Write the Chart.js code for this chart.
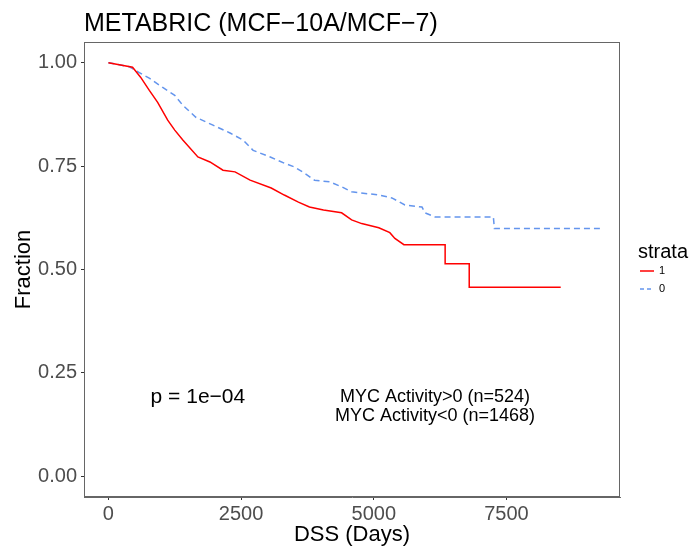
<!DOCTYPE html>
<html>
<head>
<meta charset="utf-8">
<script src="https://cdn.jsdelivr.net/npm/chart.js@4"></script>
<style>
  html, body { margin: 0; padding: 0; background: #fff; }
  #wrap { width: 693px; height: 548px; }
</style>
</head>
<body>
<div id="wrap"><canvas id="chart" width="693" height="548"></canvas></div>
<script>
// curva strata 1 (MYC Activity>0)
var redDays = [0, 455, 606, 771, 928, 1117, 1250, 1402, 1686, 1913, 2159, 2386, 2670, 3068, 3314, 3580, 3788, 4053, 4394, 4583, 4773, 5095, 5303, 5398, 5568, 6345, 6345, 6799, 6799, 8523];
var redSurv = [1.0, 0.989, 0.965, 0.933, 0.904, 0.861, 0.837, 0.813, 0.772, 0.760, 0.740, 0.736, 0.716, 0.697, 0.680, 0.663, 0.651, 0.644, 0.637, 0.620, 0.611, 0.601, 0.589, 0.575, 0.560, 0.560, 0.514, 0.514, 0.457, 0.457];
// curva strata 0 (MYC Activity<0)
var blueDays = [0, 398, 511, 777, 1023, 1250, 1402, 1648, 1970, 2292, 2538, 2727, 3049, 3314, 3504, 3693, 3883, 4167, 4394, 4583, 5095, 5341, 5587, 5909, 5966, 6155, 7254, 7273, 9261];
var blueSurv = [1.0, 0.990, 0.981, 0.962, 0.940, 0.921, 0.897, 0.868, 0.849, 0.830, 0.813, 0.788, 0.772, 0.757, 0.748, 0.733, 0.716, 0.712, 0.700, 0.688, 0.680, 0.673, 0.656, 0.651, 0.637, 0.627, 0.627, 0.599, 0.599];

var xTicks = [0, 2500, 5000, 7500];
var yTicks = [0, 0.25, 0.5, 0.75, 1.0];
var strataNames = ['1', '0'];
var strataColors = ['#FF0000', '#6495ED'];
var titulo = 'METABRIC (MCF\u221210A/MCF\u22127)';
var pTexto = 'p = 1e\u221204';
var mycTextos = ['MYC Activity>0 (n=524)', 'MYC Activity<0 (n=1468)'];

var FONT = '"Liberation Sans", Arial, sans-serif';

function toXY(xs, ys) {
    var out = [];
    for (var i = 0; i < xs.length; i++) out.push({x: xs[i], y: ys[i]});
    return out;
}

// titulo, borde del panel, textos y leyenda
var extras = {
    id: 'extras',
    afterDraw: function (chart) {
        var c = chart.ctx;
        var a = chart.chartArea;
        var sx = chart.scales.x, sy = chart.scales.y;
        c.save();
        c.strokeStyle = '#666';
        c.lineWidth = 1;
        c.strokeRect(a.left + 0.5, a.top + 0.5, a.right - a.left - 1, a.bottom - a.top - 1);

        c.fillStyle = '#000';
        c.textBaseline = 'middle';
        c.textAlign = 'left';
        c.font = '25px ' + FONT;
        c.fillText(titulo, 84, 24);

        c.textAlign = 'center';
        c.font = '21px ' + FONT;
        c.fillText(pTexto, sx.getPixelForValue(1686), sy.getPixelForValue(0.192));
        c.font = '18px ' + FONT;
        c.fillText(mycTextos[0], sx.getPixelForValue(6155), sy.getPixelForValue(0.192));
        c.fillText(mycTextos[1], sx.getPixelForValue(6155), sy.getPixelForValue(0.146));

        // leyenda
        c.textAlign = 'left';
        c.font = '20px ' + FONT;
        c.fillText('strata', 638, 252);
        c.font = '11px ' + FONT;
        var ys = [271, 289];
        for (var i = 0; i < strataNames.length; i++) {
            c.strokeStyle = strataColors[i];
            c.lineWidth = 1.5;
            c.setLineDash(i == 1 ? [4, 3] : []);
            c.beginPath();
            c.moveTo(640, ys[i]);
            c.lineTo(654, ys[i]);
            c.stroke();
            c.fillStyle = '#000';
            c.fillText(strataNames[i], 659, ys[i]);
        }
        c.restore();
    }
};

var ctx = document.getElementById('chart');
var chart = new Chart(ctx, {
    type: 'line',
    data: {
        datasets: [{
            label: strataNames[0],
            data: toXY(redDays, redSurv),
            borderColor: strataColors[0],
            borderWidth: 1.5,
            pointRadius: 0,
            tension: 0,
            fill: false
        }, {
            label: strataNames[1],
            data: toXY(blueDays, blueSurv),
            borderColor: strataColors[1],
            borderWidth: 1.5,
            borderDash: [6, 4],
            pointRadius: 0,
            tension: 0,
            fill: false
        }]
    },
    options: {
        responsive: false,
        animation: false,
        layout: { padding: { left: 0, top: 42, right: 73, bottom: 0 } },
        plugins: { legend: { display: false }, title: { display: false }, tooltip: { enabled: false } },
        scales: {
            x: {
                type: 'linear',
                min: -460,
                max: 9640,
                afterFit: function (s) { s.height = 51; },
                afterBuildTicks: function (s) { s.ticks = xTicks.map(function (v) { return {value: v}; }); },
                grid: { drawOnChartArea: false, drawTicks: true, tickLength: 3, tickColor: '#333' },
                border: { display: true, color: '#666' },
                ticks: { color: '#4D4D4D', font: { family: FONT, size: 20 }, padding: 2, maxRotation: 0,
                    callback: function (v) { return String(v); } },
                title: { display: true, text: 'DSS (Days)', color: '#000', font: { family: FONT, size: 22 }, padding: { top: 0, bottom: 0 } }
            },
            y: {
                type: 'linear',
                min: -0.05,
                max: 1.05,
                afterFit: function (s) { s.width = 84; },
                afterBuildTicks: function (s) { s.ticks = yTicks.map(function (v) { return {value: v}; }); },
                grid: { drawOnChartArea: false, drawTicks: true, tickLength: 3, tickColor: '#333' },
                border: { display: true, color: '#666' },
                ticks: { color: '#4D4D4D', font: { family: FONT, size: 20 }, padding: 4,
                    callback: function (v) { return v.toFixed(2); } },
                title: { display: true, text: 'Fraction', color: '#000', font: { family: FONT, size: 22 }, padding: { top: 11, bottom: 0 } }
            }
        }
    },
    plugins: [extras]
});
</script>
</body>
</html>
